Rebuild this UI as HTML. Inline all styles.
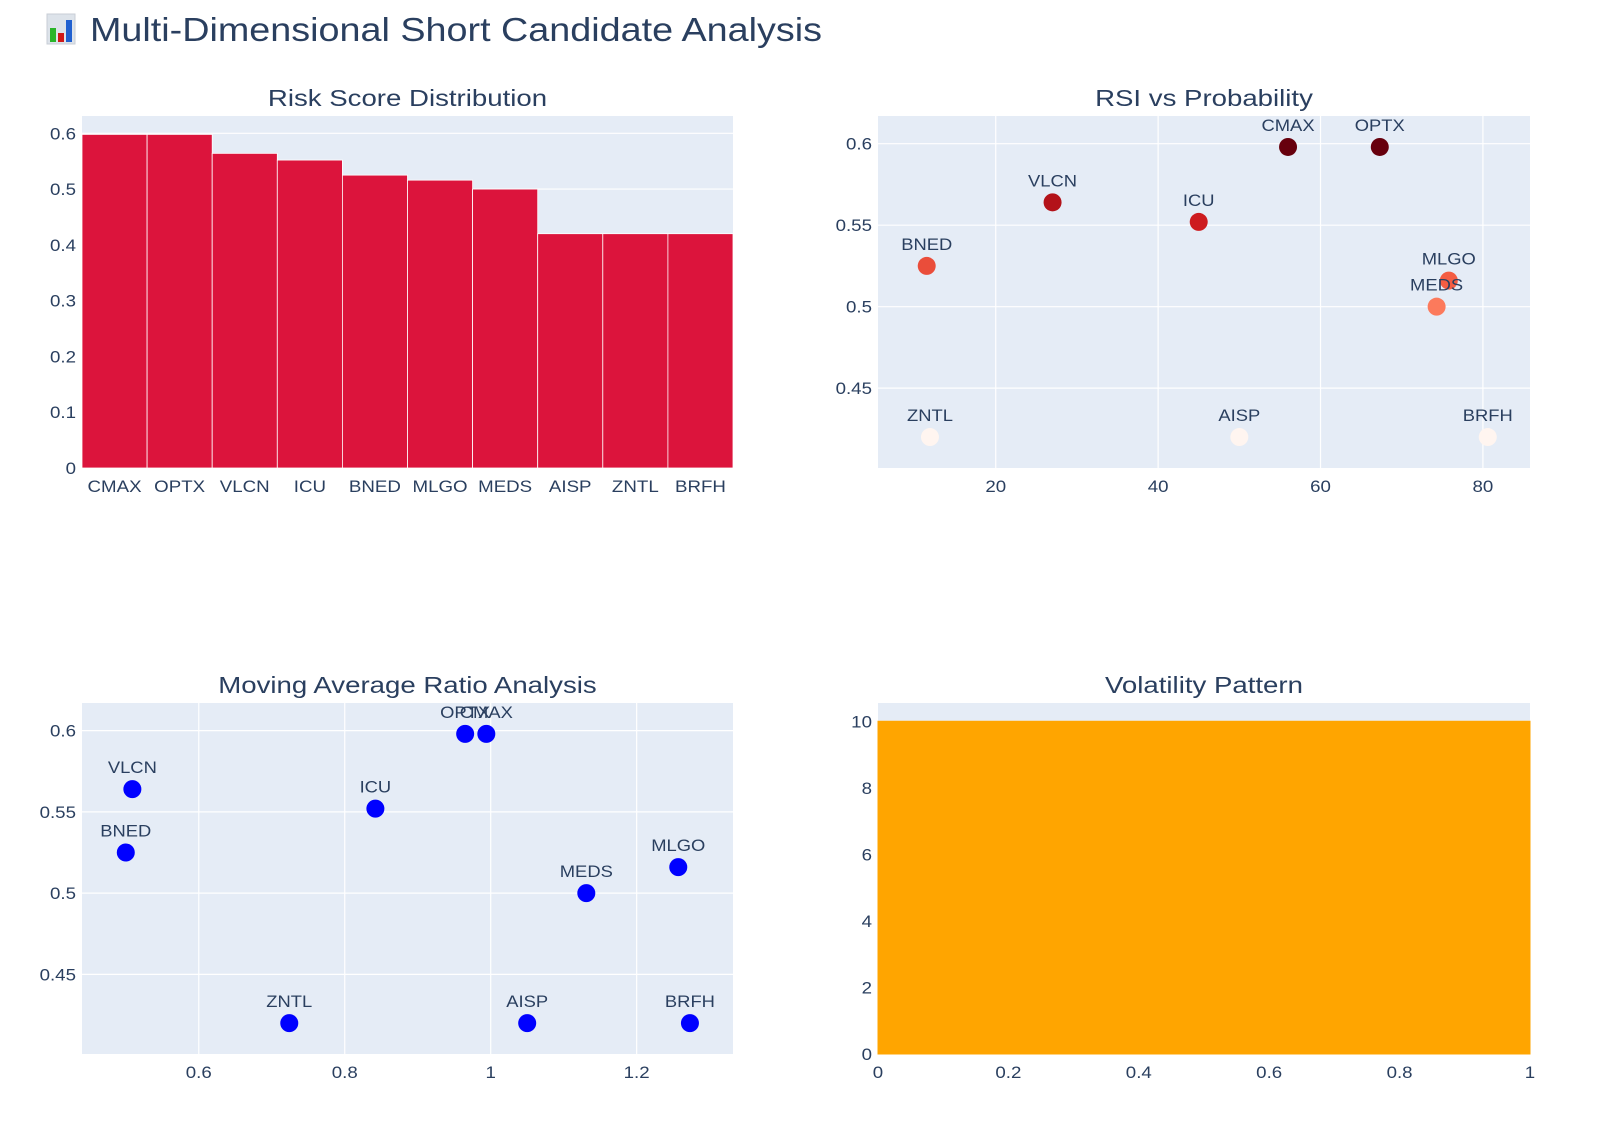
<!DOCTYPE html>
<html><head><meta charset="utf-8"><style>
body{margin:0;background:#fff;}
svg text{font-family:"Liberation Sans","DejaVu Sans",sans-serif;fill:#2a3f5f;}
</style></head><body>
<svg id="c" width="1600" height="1129" xmlns="http://www.w3.org/2000/svg">
<defs>
<clipPath id="cp2"><rect x="878" y="116" width="652" height="352"/></clipPath>
<clipPath id="cp3"><rect x="82" y="703" width="651" height="351"/></clipPath>
</defs>
<g>
<rect x="47" y="14" width="28" height="30" fill="#dde3ea" stroke="#c8ced6"/>
<rect x="50" y="28" width="6" height="14" fill="#2ab52a"/>
<rect x="58" y="33" width="6" height="9" fill="#d01818"/>
<rect x="66" y="20" width="6" height="22" fill="#2060d0"/>
</g>
<text x="90" y="41" font-size="33" textLength="732" lengthAdjust="spacingAndGlyphs">Multi-Dimensional Short Candidate Analysis</text>
<g id="g"></g>
</svg>
<script>
const tickers = ['CMAX','OPTX','VLCN','ICU','BNED','MLGO','MEDS','AISP','ZNTL','BRFH'];
const riskScores = [0.598,0.598,0.564,0.552,0.525,0.516,0.500,0.420,0.420,0.420];
const rsiValues = [56.0,67.3,27.0,45.0,11.5,75.8,74.3,50.0,11.9,80.6];
const maRatios = [0.994,0.965,0.509,0.842,0.500,1.257,1.131,1.050,0.724,1.273];
const volatilityX = [0,1];
const volatilityY = [10,10];
const yTicks1 = [0,0.1,0.2,0.3,0.4,0.5,0.6];
const yTicksP = [0.45,0.5,0.55,0.6];
const xTicks2 = [20,40,60,80];
const xTicks3 = [0.6,0.8,1,1.2];
const yTicks4 = [0,2,4,6,8,10];
const xTicks4 = [0,0.2,0.4,0.6,0.8,1];

const NS='http://www.w3.org/2000/svg';
const G=document.getElementById('g');
function mk(tag,at,parent){const e=document.createElementNS(NS,tag);for(const k in at)e.setAttribute(k,at[k]);(parent||G).appendChild(e);return e;}
function lin(d0,d1,r0,r1){return v=>r0+(v-d0)/(d1-d0)*(r1-r0);}
function fmt(v){return String(+v.toFixed(2));}
function stretch(t,f){const L=t.getComputedTextLength();if(L>0){t.setAttribute('textLength',(L*f).toFixed(1));t.setAttribute('lengthAdjust','spacingAndGlyphs');}}
function reds(t){const s=[[255,245,240],[252,187,161],[252,106,74],[203,24,29],[103,0,13]];t=Math.max(0,Math.min(1,t));const p=t*4,i=Math.min(3,Math.floor(p)),f=p-i;const a=s[i],b=s[i+1];return 'rgb('+a.map((c,j)=>Math.round(c+(b[j]-c)*f)).join(',')+')';}

function panel(x0,y0,w,h,title,name){
  const g=mk('g',{});
  
  
  const bg=mk('rect',{x:x0,y:y0,width:w,height:h,fill:'#e5ecf6'},g);
  
  
  const t=mk('text',{x:x0+w/2,y:y0-10,'font-size':23,'text-anchor':'middle'},g);
  t.textContent=title;
  
  
  stretch(t,1.2);
  return g;
}
function yAxis(g,ticks,sy,x0,w,grid){ticks.forEach(v=>{const y=sy(v);if(grid)mk('line',{x1:x0,x2:x0+w,y1:y,y2:y,stroke:'#fff','stroke-width':1.2},g);const t=mk('text',{x:x0-6,y:y+6,'font-size':17,'text-anchor':'end'},g);t.textContent=fmt(v);stretch(t,1.1);});}
function xAxis(g,ticks,sx,y0,h,grid){ticks.forEach(v=>{const x=sx(v);if(grid)mk('line',{x1:x,x2:x,y1:y0,y2:y0+h,stroke:'#fff','stroke-width':1.2},g);const t=mk('text',{x:x,y:y0+h+24,'font-size':17,'text-anchor':'middle'},g);t.textContent=fmt(v);stretch(t,1.1);});}

// Panel 1 bars
(function(){const x0=82,y0=116,w=651,h=352;const g=panel(x0,y0,w,h,'Risk Score Distribution','risk-score-panel');
const sy=lin(0,0.631,y0+h,y0);yAxis(g,yTicks1,sy,x0,w,true);
const bw=w/tickers.length;
tickers.forEach((tk,i)=>{const yv=sy(riskScores[i]);const r=mk('rect',{x:x0+i*bw,y:yv,width:bw,height:sy(0)-yv,fill:'#dc143c',stroke:'#fff','stroke-width':0.8},g);
const t=mk('text',{x:x0+(i+0.5)*bw,y:y0+h+24,'font-size':17,'text-anchor':'middle'},g);t.textContent=tk;stretch(t,1.1);});})();

function scatter(x0,y0,w,h,title,name,xs,xd,xt,clip,colorFn){const g=panel(x0,y0,w,h,title,name);
const sx=lin(xd[0],xd[1],x0,x0+w),sy=lin(0.401,0.617,y0+h,y0);
yAxis(g,yTicksP,sy,x0,w,true);xAxis(g,xt,sx,y0,h,true);
const cg=mk('g',{'clip-path':'url(#'+clip+')'},g);
tickers.forEach((tk,i)=>{const cx=sx(xs[i]),cy=sy(riskScores[i]);const c=mk('circle',{cx:cx,cy:cy,r:9,fill:colorFn(i)},cg);
const t=mk('text',{x:cx,y:cy-16,'font-size':17,'text-anchor':'middle'},cg);t.textContent=tk;stretch(t,1.08);});}
const rmin=Math.min(...riskScores),rmax=Math.max(...riskScores);
scatter(878,116,652,352,'RSI vs Probability','rsi-panel',rsiValues,[5.5,85.8],xTicks2,'cp2',i=>reds((riskScores[i]-rmin)/(rmax-rmin)));
scatter(82,703,651,351,'Moving Average Ratio Analysis','ma-ratio-panel',maRatios,[0.44,1.332],xTicks3,'cp3',i=>'#0000ff');

// Panel 4 area
(function(){const x0=878,y0=703,w=652,h=351;const g=panel(x0,y0,w,h,'Volatility Pattern','volatility-panel');
const sx=lin(0,1,x0,x0+w),sy=lin(0,10.55,y0+h,y0);
yAxis(g,yTicks4,sy,x0,w,true);xAxis(g,xTicks4,sx,y0,h,false);
let d='M'+sx(volatilityX[0])+','+sy(0);volatilityX.forEach((v,i)=>{d+='L'+sx(v)+','+sy(volatilityY[i]);});d+='L'+sx(volatilityX[volatilityX.length-1])+','+sy(0)+'Z';
const p=mk('path',{d:d,fill:'#ffa500',stroke:'#ffa500','stroke-width':1},g);})();
</script>
</body></html>
